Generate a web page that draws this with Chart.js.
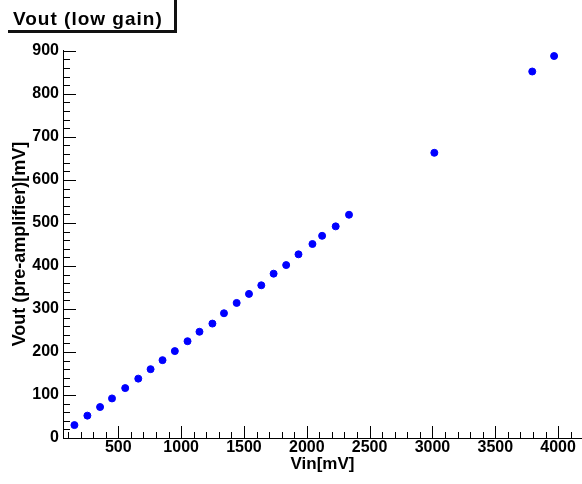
<!DOCTYPE html>
<html>
<head>
<meta charset="utf-8">
<script src="https://cdn.jsdelivr.net/npm/chart.js@4/dist/chart.umd.min.js"></script>
<style>
    html, body { margin: 0; padding: 0; background: #fff; }
    canvas { display: block; }
</style>
</head>
<body>
<canvas id="vout_chart" width="582" height="484"></canvas>
<script>
// Vin [mV]
var vin = [151, 254, 355, 450, 555, 659, 757, 852, 950, 1051, 1146, 1249, 1341,
    1442, 1540, 1638, 1736, 1836, 1934, 2045, 2122, 2230, 2336, 3015, 3794, 3968];
// Vout (pre-amplifier) [mV]
var vout = [30, 52, 72, 92, 116, 138, 160, 181, 202, 225, 247, 266, 290,
    314, 335, 355, 382, 402, 427, 451, 470, 492, 519, 663, 852, 888];

var xTicks = [500, 1000, 1500, 2000, 2500, 3000, 3500, 4000];
var yTicks = [0, 100, 200, 300, 400, 500, 600, 700, 800, 900];

var chartTitle = "Vout (low gain)";
var xTitle = "Vin[mV]";
var yTitle = "Vout (pre-amplifier)[mV]";

var fontFamily = "'Liberation Sans', Arial, Helvetica, sans-serif";

// ROOT style ticks, drawn inside the frame
var axisTicksPlugin = {
    id: "axis_ticks",
    beforeDatasetsDraw: function (chart) {
        var ctx = chart.ctx;
        var area = chart.chartArea;
        var xs = chart.scales.x;
        var ys = chart.scales.y;
        ctx.save();
        ctx.strokeStyle = "#000";
        ctx.lineWidth = 1;
        ctx.beginPath();
        for (var v = 100; v <= xs.max; v += 100) {
            if (v < xs.min) continue;
            var px = Math.round(xs.getPixelForValue(v)) + 0.5;
            var len = v % 500 === 0 ? 12 : 6;
            ctx.moveTo(px, area.bottom);
            ctx.lineTo(px, area.bottom - len);
        }
        for (var w = 0; w <= ys.max; w += 20) {
            var py = Math.round(ys.getPixelForValue(w)) + 0.5;
            var len2 = w % 100 === 0 ? 13 : 7;
            ctx.moveTo(area.left, py);
            ctx.lineTo(area.left + len2, py);
        }
        ctx.stroke();
        ctx.restore();
    }
};

// Title box in the top left corner
var titleBoxPlugin = {
    id: "title_box",
    afterDraw: function (chart) {
        var ctx = chart.ctx;
        ctx.save();
        ctx.fillStyle = "#111";
        ctx.fillRect(8, 30, 169, 3);
        ctx.fillRect(174, 0, 3, 33);
        ctx.fillStyle = "#000";
        ctx.font = "bold 19px " + fontFamily;
        ctx.letterSpacing = "1px";
        ctx.textBaseline = "alphabetic";
        ctx.textAlign = "left";
        ctx.fillText(chartTitle, 13, 25);
        ctx.restore();
    }
};

function init_chart() {
    try {
        // Vars
        var ctx = document.getElementById("vout_chart").getContext("2d");
        var points = vin.map(function (x, i) {
            return { x: x, y: vout[i] };
        });

        // Data
        var data = {
            datasets: [{
                label: "Vout",
                data: points,
                backgroundColor: "#0000ff",
                borderColor: "#0000ff",
                borderWidth: 1,
                pointRadius: 3.5,
                showLine: false
            }]
        };

        // Options
        var options = {
            responsive: false,
            animation: false,
            devicePixelRatio: 1,
            layout: {
                autoPadding: false,
                padding: { top: 50, right: 0, bottom: 0, left: 0 }
            },
            plugins: {
                legend: { display: false },
                tooltip: { enabled: false },
                title: { display: false }
            },
            scales: {
                x: {
                    type: "linear",
                    position: "bottom",
                    min: 60,
                    max: 4190,
                    afterBuildTicks: function (scale) {
                        scale.ticks = xTicks.map(function (v) { return { value: v }; });
                    },
                    afterFit: function (scale) {
                        scale.height = 46;
                        scale.paddingLeft = 0;
                        scale.paddingRight = 0;
                    },
                    ticks: {
                        autoSkip: false,
                        maxRotation: 0,
                        padding: 0,
                        color: "#000",
                        font: { family: fontFamily, size: 16, weight: "bold" },
                        callback: function (value) { return String(value); }
                    },
                    grid: { drawOnChartArea: false, drawTicks: false },
                    border: { color: "#000", width: 1 },
                    title: {
                        display: true,
                        text: xTitle,
                        color: "#000",
                        font: { family: fontFamily, size: 17, weight: "bold" },
                        padding: { top: 0, bottom: 9 }
                    }
                },
                y: {
                    type: "linear",
                    min: 0,
                    max: 902,
                    afterBuildTicks: function (scale) {
                        scale.ticks = yTicks.map(function (v) { return { value: v }; });
                    },
                    afterFit: function (scale) {
                        scale.width = 63;
                    },
                    ticks: {
                        autoSkip: false,
                        padding: 4,
                        color: "#000",
                        font: { family: fontFamily, size: 16, weight: "bold" },
                        callback: function (value) { return String(value); }
                    },
                    grid: { drawOnChartArea: false, drawTicks: false },
                    border: { color: "#000", width: 1 },
                    title: {
                        display: true,
                        text: yTitle,
                        color: "#000",
                        font: { family: fontFamily, size: 18, weight: "bold" },
                        padding: { top: 9, bottom: 0 }
                    }
                }
            }
        };

        // Init new chart
        new Chart(ctx, {
            type: "scatter",
            data: data,
            options: options,
            plugins: [axisTicksPlugin, titleBoxPlugin]
        });
    } catch (e) {
        console.error(e);
    }
}

init_chart();
</script>
</body>
</html>
